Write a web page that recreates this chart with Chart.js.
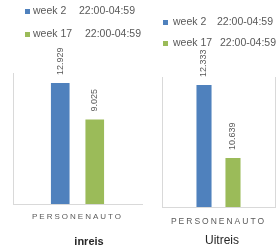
<!DOCTYPE html>
<html>
<head>
<meta charset="utf-8">
<script src="https://cdn.jsdelivr.net/npm/chart.js@4.4.1/dist/chart.umd.min.js"></script>
<style>
  html, body { margin: 0; padding: 0; background: #ffffff; }
  #wrap { position: relative; width: 277px; height: 249px; overflow: hidden; font-family: "Liberation Sans", Arial, sans-serif; }
  canvas { position: absolute; left: 0; top: 0; }
  .lg { position: absolute; color: #595959; white-space: nowrap; line-height: 1; }
  .sq { position: absolute; width: 5px; height: 5px; }
  .tt { position: absolute; color: #262626; white-space: nowrap; transform: translate(-50%, -50%); line-height: 1; }
</style>
</head>
<body>
<div id="wrap">
  <canvas id="c1" width="277" height="249"></canvas>
  <canvas id="c2" width="277" height="249"></canvas>
  <div id="legends"></div>
  <div class="tt" style="left:89px; top:241px; font-size:11px; font-weight:bold;" id="t1"></div>
  <div class="tt" style="left:222px; top:240px; font-size:12px;" id="t2"></div>
</div>
<script>
// ---- data ----
const categories = ['PERSONENAUTO'];
const seriesNames = ['week 2', 'week 17'];
const timeWindow = '22:00-04:59';
const inreisValues = [12929, 9025];
const uitreisValues = [12333, 10639];
const chartTitles = ['inreis', 'Uitreis'];

const colors = ['#4F81BD', '#9BBB59'];
const axisColor = '#d9d9d9';
const textColor = '#595959';

document.getElementById('t1').textContent = chartTitles[0];
document.getElementById('t2').textContent = chartTitles[1];

// ---- HTML legends ----
function addLegend(rows) {
  const host = document.getElementById('legends');
  rows.forEach((r, i) => {
    const sq = document.createElement('div');
    sq.className = 'sq';
    sq.style.left = r.sx + 'px'; sq.style.top = (r.y - 2.5) + 'px';
    sq.style.background = colors[i];
    host.appendChild(sq);
    const a = document.createElement('div');
    a.className = 'lg'; a.textContent = seriesNames[i];
    a.style.left = r.tx + 'px'; a.style.top = (r.y - r.fs / 2 - 1) + 'px'; a.style.fontSize = r.fs + 'px';
    host.appendChild(a);
    const b = document.createElement('div');
    b.className = 'lg'; b.textContent = timeWindow;
    b.style.left = r.t2 + 'px'; b.style.top = (r.y - r.fs / 2 - 1) + 'px'; b.style.fontSize = r.fs + 'px';
    host.appendChild(b);
  });
}
addLegend([{sx: 25, tx: 33, t2: 79, y: 11, fs: 10.5}, {sx: 25, tx: 33, t2: 85, y: 34, fs: 10.5}]);
addLegend([{sx: 163, tx: 173, t2: 217, y: 22, fs: 10.5}, {sx: 163, tx: 173, t2: 220, y: 43, fs: 10.5}]);

function fmt(v) {
  return Math.floor(v / 1000) + '.' + String(v % 1000).padStart(3, '0');
}

const valueLabels = {
  id: 'valueLabels',
  beforeDraw(chart) { chart.ctx.letterSpacing = chart.options.plugins.valueLabels.spacing; },
  afterDatasetsDraw(chart) {
    const ctx = chart.ctx;
    const o = chart.options.plugins.valueLabels;
    ctx.save();
    ctx.letterSpacing = '0px';
    ctx.font = o.font;
    ctx.fillStyle = textColor;
    chart.data.datasets.forEach((ds, di) => {
      const meta = chart.getDatasetMeta(di);
      meta.data.forEach((el, i) => {
        ctx.save();
        ctx.translate(el.x, el.y - o.gap);
        ctx.rotate(-Math.PI / 2);
        ctx.textAlign = 'left';
        ctx.textBaseline = 'middle';
        ctx.fillText(fmt(ds.data[i]), 0, 0);
        ctx.restore();
      });
    });
    ctx.restore();
  }
};

function makeChart(id, values, cfg) {
  return new Chart(document.getElementById(id), {
    type: 'bar',
    data: {
      labels: categories,
      datasets: values.map((v, i) => ({
        label: seriesNames[i],
        data: [v],
        backgroundColor: colors[i],
        borderWidth: 0,
        categoryPercentage: cfg.catPct,
        barPercentage: cfg.barPct
      }))
    },
    options: {
      responsive: false,
      animation: false,
      devicePixelRatio: 1,
      layout: { padding: { left: cfg.left, right: 277 - cfg.right, top: cfg.top, bottom: 0 } },
      plugins: {
        legend: { display: false },
        tooltip: { enabled: false },
        valueLabels: { font: cfg.labelFont, gap: 8, spacing: cfg.spacing }
      },
      scales: {
        x: {
          offset: true,
          grid: { display: false, drawTicks: false },
          border: { display: true, color: axisColor, width: 1 },
          ticks: { color: textColor, font: { family: 'Liberation Sans', size: cfg.tickSize }, padding: cfg.tickPad },
          afterFit: s => { s.height = 249 - cfg.bottom; }
        },
        y: {
          min: cfg.min, max: cfg.max,
          grid: { display: false, drawTicks: false },
          border: { display: true, color: axisColor, width: 1 },
          ticks: { display: false }
        },
        ...(cfg.rightBorder ? {
          y2: {
            position: 'right', min: cfg.min, max: cfg.max,
            grid: { display: false, drawTicks: false },
            border: { display: true, color: axisColor, width: 1 },
            ticks: { display: false }
          }
        } : {})
      }
    },
    plugins: [valueLabels]
  });
}

makeChart('c1', inreisValues, {
  left: 13, right: 142, top: 73, bottom: 204, min: 0, max: 14000,
  catPct: 0.535, barPct: 0.54, tickSize: 8, tickPad: 8, spacing: '2px',
  labelFont: '9px "Liberation Sans"', rightBorder: false
});
makeChart('c2', uitreisValues, {
  left: 162, right: 275, top: 77, bottom: 207, min: 9500, max: 12520,
  catPct: 0.513, barPct: 0.52, tickSize: 8.5, tickPad: 10, spacing: '2px',
  labelFont: '9px "Liberation Sans"', rightBorder: true
});
</script>
</body>
</html>
